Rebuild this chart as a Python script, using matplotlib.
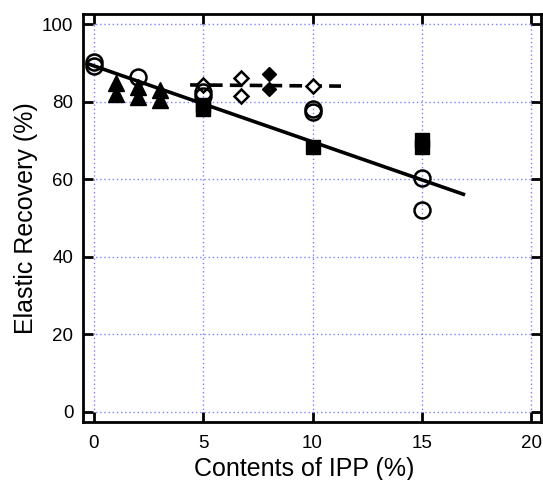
import numpy as np
import matplotlib.pyplot as plt

plt.rcParams['font.family'] = ['Liberation Sans', 'DejaVu Sans']

# open circles
circ_x = [0, 0, 2, 5, 5, 10, 10, 15, 15]
circ_y = [90.3, 89.3, 86.3, 82.5, 81.5, 78.0, 77.2, 60.2, 52.0]
# filled squares
sq_x = [5, 5, 10, 15, 15]
sq_y = [79.2, 78.0, 68.4, 70.0, 68.3]
# filled triangles
tri_x = [1, 1, 2, 2, 3, 3]
tri_y = [84.8, 82.0, 83.8, 81.2, 83.0, 80.3]
# open diamonds
odia_x = [5, 6.75, 6.75, 10]
odia_y = [84.3, 86.2, 81.5, 84.0]
# filled diamonds
fdia_x = [8, 8]
fdia_y = [87.0, 83.2]

# fitted lines (end points)
fit_x = [-0.3, 16.9]
fit_y = [89.8, 56.1]
dash_x = [4.4, 11.3]
dash_y = [84.3, 84.0]

fig = plt.figure(figsize=(5.43, 4.80), dpi=100)
ax = fig.add_axes([83/543, 1 - 422/480, (541 - 83)/543, (422 - 14)/480])

ax.grid(True, color='#8080ff', linestyle=(0, (1, 2)), linewidth=1.0)
ax.set_axisbelow(True)

ax.plot(fit_x, fit_y, color='black', linewidth=2.6, zorder=2)
ax.plot(dash_x, dash_y, color='black', linewidth=2.6, linestyle=(0, (3.5, 2)), zorder=2)

ax.plot(sq_x, sq_y, 's', color='black', markersize=10, zorder=3)
ax.plot(tri_x, tri_y, '^', color='black', markersize=11, zorder=3)
ax.plot(fdia_x, fdia_y, 'D', color='black', markersize=7.5, zorder=3)
ax.plot(odia_x, odia_y, 'D', markerfacecolor='white', markeredgecolor='black',
        markersize=7.5, markeredgewidth=1.8, zorder=4)
ax.plot(circ_x, circ_y, 'o', markerfacecolor='none', markeredgecolor='black',
        markersize=11.5, markeredgewidth=1.8, zorder=4)

ax.set_xlim(-0.5, 20.45)
ax.set_ylim(-2.65, 102.6)
ax.set_xticks([0, 5, 10, 15, 20])
ax.set_yticks([0, 20, 40, 60, 80, 100])

for s in ax.spines.values():
    s.set_linewidth(2)
ax.tick_params(direction='in', length=7, width=2, top=True, right=True,
               labelsize=13.5, pad=7)
ax.tick_params(axis='x', pad=9)

ax.set_xlabel('Contents of IPP (%)', fontsize=18, labelpad=4)
ax.xaxis.label.set_x(0.483)
ax.set_ylabel('Elastic Recovery (%)', fontsize=18, labelpad=3)

fig.savefig('out.png', dpi=100)
